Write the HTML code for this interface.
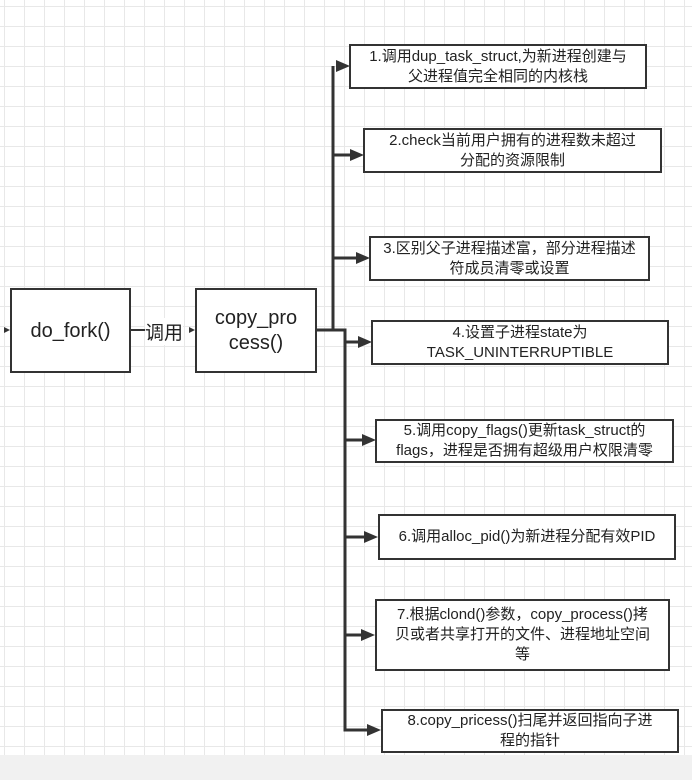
<!DOCTYPE html>
<html><head><meta charset="utf-8"><style>
body{margin:0;width:692px;height:780px;overflow:hidden;background:#fff;font-family:"Liberation Sans","Noto Sans CJK SC",sans-serif}
.g{position:absolute;left:0;top:0;width:692px;height:755px;background-image:linear-gradient(#e8e8e8 1px,transparent 1px),linear-gradient(90deg,#e8e8e8 1px,transparent 1px);background-size:20px 20px;background-position:4px 6px}
.b{position:absolute;box-sizing:border-box;border:2px solid #333;background:#fff;display:flex;align-items:center;justify-content:center;text-align:center;color:#222;font-size:15px;line-height:20px}
</style></head><body>
<div class="g"></div>
<div style="position:absolute;left:0;top:755px;width:692px;height:25px;background:#f1f1f1"></div>
<svg style="position:absolute;left:0;top:0" width="692" height="780">
<g stroke="#333" stroke-width="3" fill="none">
<path d="M316 330H333V66M333 155H352M333 258H358M333 330H345V730H368M345 342H360M345 440H364M345 537H366M345 635H363"/>
<path d="M130 330H145" stroke-width="2"/>
</g>
<g fill="#333">
<path d="M350 66l-14 -6v12z"/><path d="M364 155l-14 -6v12z"/><path d="M370 258l-14 -6v12z"/>
<path d="M372 342l-14 -6v12z"/><path d="M376 440l-14 -6v12z"/><path d="M378 537l-14 -6v12z"/>
<path d="M375 635l-14 -6v12z"/><path d="M381 730l-14 -6v12z"/>
<path d="M195 330l-6 -3v6z"/><path d="M10 330l-6 -3v6z"/>
</g>
</svg>
<div style="position:absolute;left:145px;top:318px;font-size:19px;color:#222;background:#fff">调用</div>
<div class="b" style="left:10px;top:288px;width:121px;height:85px;font-size:20px">do_fork()</div>
<div class="b" style="left:195px;top:288px;width:122px;height:85px;font-size:20px;line-height:25px">copy_pro<br>cess()</div>
<div class="b" style="left:349px;top:44px;width:298px;height:45px">1.调用dup_task_struct,为新进程创建与<br>父进程值完全相同的内核栈</div>
<div class="b" style="left:363px;top:128px;width:299px;height:45px">2.check当前用户拥有的进程数未超过<br>分配的资源限制</div>
<div class="b" style="left:369px;top:236px;width:281px;height:45px">3.区别父子进程描述富，部分进程描述<br>符成员清零或设置</div>
<div class="b" style="left:371px;top:320px;width:298px;height:45px">4.设置子进程state为<br>TASK_UNINTERRUPTIBLE</div>
<div class="b" style="left:375px;top:419px;width:299px;height:44px">5.调用copy_flags()更新task_struct的<br>flags，进程是否拥有超级用户权限清零</div>
<div class="b" style="left:378px;top:514px;width:298px;height:46px">6.调用alloc_pid()为新进程分配有效PID</div>
<div class="b" style="left:375px;top:599px;width:295px;height:72px">7.根据clond()参数，copy_process()拷<br>贝或者共享打开的文件、进程地址空间<br>等</div>
<div class="b" style="left:381px;top:709px;width:298px;height:44px">8.copy_pricess()扫尾并返回指向子进<br>程的指针</div>
</body></html>
